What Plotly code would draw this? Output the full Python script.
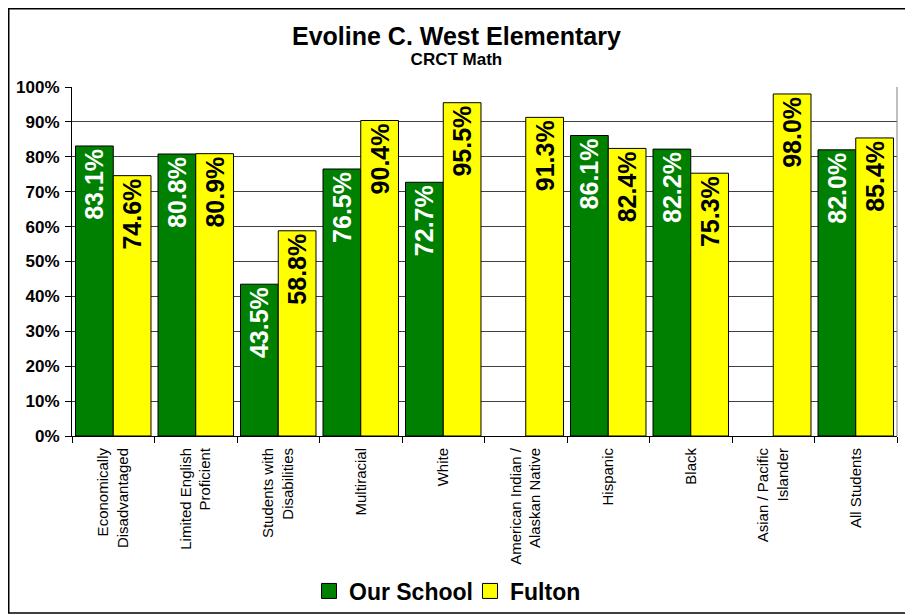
import plotly.graph_objects as go

categories = [
    "Economically<br>Disadvantaged",
    "Limited English<br>Proficient",
    "Students with<br>Disabilities",
    "Multiracial",
    "White",
    "American Indian /<br>Alaskan Native",
    "Hispanic",
    "Black",
    "Asian / Pacific<br>Islander",
    "All Students",
]
our_school = [83.1, 80.8, 43.5, 76.5, 72.7, None, 86.1, 82.2, None, 82.0]
fulton = [74.6, 80.9, 58.8, 90.4, 95.5, 91.3, 82.4, 75.3, 98.0, 85.4]
y_ticks = [0, 10, 20, 30, 40, 50, 60, 70, 80, 90, 100]
y_tick_labels = ["0%", "10%", "20%", "30%", "40%", "50%", "60%", "70%", "80%", "90%", "100%"]
series_names = ["Our School", "Fulton"]
series_colors = ["#008000", "#FFFF00"]
text_colors = ["white", "black"]
title_text = "Evoline C. West Elementary"
subtitle_text = "CRCT Math"

FONT = "Liberation Sans, Arial, sans-serif"

fig = go.Figure()
for name, vals, col, tcol, leg in zip(series_names, [our_school, fulton],
                                      series_colors, text_colors, ["legend", "legend2"]):
    fig.add_trace(go.Bar(
        name=name, x=categories, y=vals, showlegend=False,
        marker=dict(color=col, line=dict(color="black", width=1)),
        texttemplate="<b>%{y:.1f}%</b>", textposition="inside", insidetextanchor="end",
        textangle=-90, textfont=dict(family=FONT, size=25, color=tcol),
        constraintext="none",
    ))
    # legend entry with a larger square swatch
    fig.add_trace(go.Scatter(
        name=name, x=[None], y=[None], mode="markers", legend=leg,
        marker=dict(symbol="square", size=15, color=col, line=dict(color="black", width=1)),
        showlegend=True,
    ))

# the page shows the figure offset by 8px (body margin); positions below are in figure px
L, R, T, B = 64, 24, 79, 187
W, H = 913, 615
pw, ph = W - L - R, H - T - B

def px_x(p):
    return (p - L) / pw

def px_y(p):
    return (H - B - p) / ph

legend_font = dict(size=23, family=FONT, color="black", weight="bold")

fig.update_layout(
    width=W, height=H,
    margin=dict(l=L, r=R, t=T, b=B, autoexpand=False),
    paper_bgcolor="white", plot_bgcolor="white",
    barmode="group", bargap=0.085, bargroupgap=0,
    font=dict(family=FONT, color="black"),
    legend=dict(
        orientation="h", x=px_x(301), xanchor="left", y=px_y(583), yanchor="middle",
        font=legend_font, bgcolor="rgba(0,0,0,0)",
    ),
    legend2=dict(
        orientation="h", x=px_x(462), xanchor="left", y=px_y(583), yanchor="middle",
        font=legend_font, bgcolor="rgba(0,0,0,0)",
    ),
    xaxis=dict(
        type="category", tickson="boundaries", ticks="outside", ticklen=6,
        tickcolor="black", tickangle=-90, showgrid=False,
        showline=True, linecolor="black", linewidth=1,
        tickfont=dict(size=15, family=FONT, color="black"),
        ticklabelstandoff=5, automargin=False,
    ),
    yaxis=dict(
        range=[0, 100], tickvals=y_ticks, ticktext=y_tick_labels,
        ticks="outside", ticklen=6, tickcolor="black",
        showgrid=True, gridcolor="#404040", gridwidth=1,
        showline=True, linecolor="black", linewidth=1,
        tickfont=dict(size=17, family=FONT, color="black", weight="bold"),
        zeroline=False, ticklabelstandoff=2, automargin=False,
    ),
    annotations=[
        dict(text=("<span style='font-size:25px'><b>" + title_text + "</b></span><br>"
                   "<span style='font-size:17px'><b>" + subtitle_text + "</b></span>"),
             xref="paper", yref="paper", align="center",
             x=px_x(448), y=px_y(12), xanchor="center", yanchor="top",
             showarrow=False, font=dict(size=15, family=FONT, color="black")),
    ],
    shapes=[
        dict(type="rect", xref="paper", yref="paper",
             x0=px_x(0.75), x1=px_x(898), y0=px_y(605), y1=px_y(0.75),
             line=dict(color="black", width=1.5), fillcolor="rgba(0,0,0,0)", layer="below"),
        dict(type="line", xref="paper", yref="paper",
             x0=1, x1=1, y0=0, y1=1, line=dict(color="#808080", width=1)),
    ],
)

fig.write_html("out.html")
